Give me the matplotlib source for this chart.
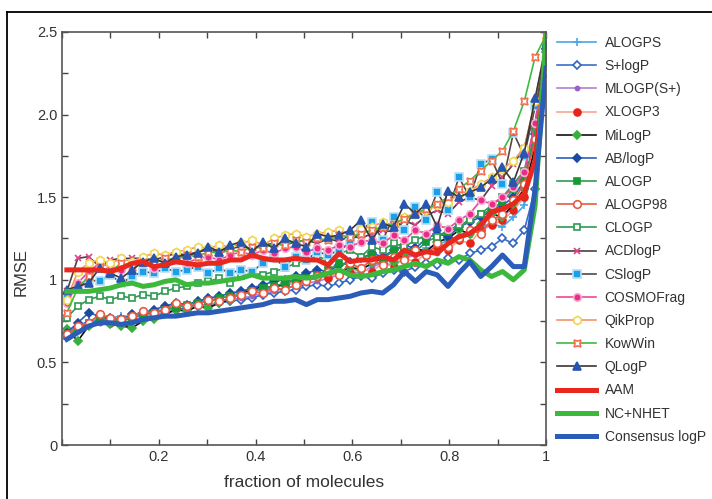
import numpy as np
import matplotlib
matplotlib.use("Agg")
import matplotlib.pyplot as plt
from matplotlib.lines import Line2D
from matplotlib.ticker import MultipleLocator, FixedLocator, FixedFormatter

plt.rcParams['font.family'] = ['Liberation Sans', 'DejaVu Sans']

# fraction of molecules (x grid)
frac = [0.01, 0.0325, 0.055, 0.0775, 0.1, 0.1225, 0.145, 0.1675, 0.19, 0.2125,
        0.235, 0.2575, 0.28, 0.3025, 0.325, 0.3475, 0.37, 0.3925, 0.415, 0.4375,
        0.46, 0.4825, 0.505, 0.5275, 0.55, 0.5725, 0.595, 0.6175, 0.64, 0.6625,
        0.685, 0.7075, 0.73, 0.7525, 0.775, 0.7975, 0.82, 0.8425, 0.865, 0.8875,
        0.91, 0.9325, 0.955, 0.9775, 1.0]

alogps = [0.68, 0.72, 0.75, 0.76, 0.77, 0.78, 0.78, 0.80, 0.81, 0.82, 0.84, 0.85, 0.86, 0.87, 0.89,
          0.90, 0.91, 0.93, 0.94, 0.95, 0.97, 0.98, 1.00, 1.01, 1.03, 1.04, 1.06, 1.07, 1.09, 1.11,
          1.12, 1.14, 1.17, 1.19, 1.21, 1.24, 1.26, 1.29, 1.31, 1.34, 1.32, 1.38, 1.45, 1.75, 2.30]
splogp = [0.67, 0.71, 0.74, 0.75, 0.76, 0.75, 0.77, 0.78, 0.79, 0.80, 0.82, 0.83, 0.84, 0.85, 0.86,
          0.87, 0.88, 0.89, 0.91, 0.92, 0.93, 0.94, 0.96, 0.97, 0.96, 0.98, 1.00, 1.02, 1.01, 1.04,
          1.06, 1.05, 1.08, 1.10, 1.09, 1.13, 1.12, 1.16, 1.18, 1.20, 1.25, 1.22, 1.30, 1.55, 2.25]
mlogp = [0.67, 0.71, 0.73, 0.74, 0.75, 0.76, 0.76, 0.78, 0.79, 0.80, 0.81, 0.82, 0.84, 0.85, 0.86,
         0.88, 0.89, 0.90, 0.92, 0.93, 0.95, 0.96, 0.98, 0.99, 1.01, 1.03, 1.05, 1.04, 1.08, 1.10,
         1.09, 1.13, 1.15, 1.18, 1.16, 1.21, 1.25, 1.27, 1.31, 1.35, 1.38, 1.44, 1.52, 1.80, 2.32]
xlogp3 = [0.66, 0.70, 0.73, 0.75, 0.74, 0.75, 0.77, 0.78, 0.80, 0.81, 0.83, 0.85, 0.86, 0.88, 0.89,
          0.91, 0.92, 0.93, 0.95, 0.96, 0.97, 0.99, 1.00, 1.02, 1.01, 1.05, 1.04, 1.07, 1.05, 1.10,
          1.08, 1.13, 1.11, 1.16, 1.20, 1.18, 1.24, 1.22, 1.30, 1.33, 1.36, 1.42, 1.50, 1.78, 2.30]
milogp = [0.70, 0.63, 0.72, 0.76, 0.73, 0.72, 0.71, 0.75, 0.76, 0.79, 0.82, 0.81, 0.84, 0.83, 0.86,
          0.88, 0.92, 0.94, 0.96, 0.95, 0.98, 1.00, 0.99, 1.02, 1.05, 1.04, 1.08, 1.06, 1.10, 1.13,
          1.11, 1.16, 1.19, 1.17, 1.23, 1.25, 1.30, 1.28, 1.34, 1.40, 1.38, 1.46, 1.55, 1.80, 2.38]
ablogp = [0.68, 0.74, 0.80, 0.78, 0.77, 0.76, 0.79, 0.80, 0.82, 0.84, 0.86, 0.85, 0.87, 0.89, 0.90,
          0.92, 0.93, 0.95, 0.97, 0.99, 1.00, 1.02, 1.04, 1.06, 1.05, 1.09, 1.11, 1.13, 1.16, 1.14,
          1.18, 1.21, 1.19, 1.25, 1.28, 1.26, 1.32, 1.35, 1.38, 1.42, 1.45, 1.50, 1.60, 1.88, 2.40]
alogp = [0.66, 0.70, 0.74, 0.75, 0.76, 0.75, 0.77, 0.79, 0.80, 0.82, 0.83, 0.85, 0.86, 0.87, 0.89,
         0.90, 0.91, 0.93, 0.95, 0.96, 0.98, 1.00, 1.01, 1.03, 1.06, 1.10, 1.09, 1.13, 1.15, 1.12,
         1.18, 1.20, 1.17, 1.23, 1.26, 1.29, 1.32, 1.36, 1.40, 1.42, 1.47, 1.55, 1.62, 1.90, 2.42]
alogp98 = [0.67, 0.72, 0.74, 0.79, 0.77, 0.76, 0.78, 0.81, 0.80, 0.82, 0.86, 0.84, 0.85, 0.88, 0.87,
           0.89, 0.91, 0.93, 0.92, 0.95, 0.94, 0.97, 0.99, 1.02, 1.05, 1.03, 1.10, 1.07, 1.12, 1.09,
           1.14, 1.12, 1.18, 1.15, 1.22, 1.20, 1.25, 1.30, 1.28, 1.36, 1.40, 1.48, 1.58, 1.85, 2.35]
clogp = [0.77, 0.84, 0.88, 0.90, 0.88, 0.90, 0.89, 0.91, 0.90, 0.93, 0.95, 0.96, 0.98, 0.99, 1.01,
         0.98, 1.02, 1.04, 1.03, 1.05, 1.07, 1.10, 1.12, 1.14, 1.12, 1.16, 1.18, 1.14, 1.20, 1.18,
         1.22, 1.20, 1.24, 1.27, 1.26, 1.30, 1.33, 1.36, 1.40, 1.45, 1.50, 1.58, 1.66, 1.95, 2.40]
acdlogp = [0.93, 1.13, 1.14, 1.08, 1.12, 1.13, 1.13, 1.13, 1.12, 1.14, 1.16, 1.15, 1.17, 1.18, 1.17,
           1.19, 1.20, 1.19, 1.21, 1.22, 1.21, 1.23, 1.24, 1.22, 1.25, 1.23, 1.27, 1.25, 1.28, 1.30,
           1.29, 1.36, 1.33, 1.39, 1.42, 1.40, 1.47, 1.50, 1.48, 1.57, 1.62, 1.70, 1.80, 2.05, 2.40]
cslogp = [0.89, 0.95, 1.00, 0.99, 1.03, 0.98, 1.02, 1.05, 1.04, 1.07, 1.05, 1.06, 1.08, 1.04, 1.07,
          1.04, 1.06, 1.05, 1.10, 1.13, 1.08, 1.14, 1.12, 1.17, 1.15, 1.18, 1.22, 1.30, 1.35, 1.24,
          1.38, 1.30, 1.44, 1.36, 1.53, 1.42, 1.62, 1.50, 1.70, 1.73, 1.58, 1.89, 1.75, 2.05, 2.30]
cosmofrag = [0.86, 0.98, 1.05, 1.10, 1.08, 1.06, 1.09, 1.10, 1.07, 1.11, 1.12, 1.10, 1.13, 1.14, 1.12,
             1.15, 1.17, 1.15, 1.18, 1.16, 1.19, 1.20, 1.17, 1.19, 1.18, 1.21, 1.20, 1.23, 1.24, 1.22,
             1.27, 1.24, 1.30, 1.28, 1.33, 1.31, 1.36, 1.40, 1.48, 1.46, 1.50, 1.56, 1.65, 1.95, 2.35]
qikprop = [0.88, 1.05, 1.10, 1.12, 1.10, 1.13, 1.11, 1.14, 1.16, 1.15, 1.17, 1.18, 1.20, 1.19, 1.21,
           1.20, 1.22, 1.24, 1.21, 1.25, 1.27, 1.28, 1.26, 1.28, 1.29, 1.30, 1.28, 1.31, 1.32, 1.35,
           1.33, 1.38, 1.40, 1.42, 1.45, 1.47, 1.52, 1.54, 1.58, 1.62, 1.67, 1.72, 1.80, 2.08, 2.45]
kowwin = [0.80, 0.95, 1.02, 1.08, 1.05, 1.10, 1.08, 1.11, 1.10, 1.13, 1.12, 1.15, 1.14, 1.17, 1.16,
          1.18, 1.17, 1.20, 1.19, 1.22, 1.21, 1.24, 1.23, 1.25, 1.24, 1.27, 1.26, 1.28, 1.30, 1.32,
          1.34, 1.37, 1.40, 1.43, 1.46, 1.50, 1.55, 1.60, 1.66, 1.72, 1.78, 1.90, 2.08, 2.35, 2.48]
qlogp = [0.94, 0.96, 0.98, 1.07, 1.04, 1.01, 1.06, 1.11, 1.13, 1.10, 1.14, 1.15, 1.16, 1.20, 1.17,
         1.21, 1.23, 1.17, 1.23, 1.19, 1.25, 1.22, 1.20, 1.28, 1.26, 1.27, 1.30, 1.36, 1.24, 1.34,
         1.32, 1.46, 1.40, 1.46, 1.32, 1.54, 1.50, 1.53, 1.56, 1.61, 1.68, 1.59, 1.77, 2.10, 2.42]
aam = [1.06, 1.06, 1.06, 1.06, 1.05, 1.07, 1.10, 1.11, 1.08, 1.09, 1.11, 1.10, 1.09, 1.10, 1.10,
       1.12, 1.12, 1.15, 1.13, 1.12, 1.12, 1.13, 1.12, 1.12, 1.09, 1.16, 1.11, 1.12, 1.12, 1.14,
       1.12, 1.18, 1.15, 1.17, 1.16, 1.22, 1.26, 1.28, 1.33, 1.41, 1.43, 1.46, 1.52, 1.72, 2.32]
nc_nhet = [0.93, 0.93, 0.93, 0.94, 0.95, 0.97, 0.98, 0.96, 0.97, 0.99, 1.00, 0.97, 0.98, 0.98, 0.99,
           1.00, 1.01, 1.03, 1.01, 1.01, 1.01, 1.02, 1.01, 1.02, 1.04, 1.06, 1.03, 1.02, 1.03, 1.05,
           1.06, 1.08, 1.10, 1.08, 1.12, 1.10, 1.14, 1.12, 1.06, 1.02, 1.05, 1.00, 1.06, 1.45, 2.48]
consensus = [0.64, 0.68, 0.72, 0.74, 0.74, 0.73, 0.74, 0.76, 0.77, 0.78, 0.78, 0.79, 0.80, 0.80, 0.81,
             0.82, 0.83, 0.84, 0.85, 0.87, 0.87, 0.88, 0.85, 0.88, 0.88, 0.89, 0.90, 0.92, 0.93, 0.92,
             0.97, 1.05, 0.99, 1.05, 1.03, 0.96, 1.04, 1.11, 1.02, 1.08, 1.15, 1.08, 1.08, 1.55, 2.28]

fig = plt.figure(figsize=(7.12, 4.99), dpi=100)
ax = fig.add_axes([0.0871, 0.1082, 0.6798, 0.8277])

# thin method curves: (label, values, line colour, marker, marker face, marker edge, size)
thin = [
    ("ALOGPS", alogps, "#4aa6ea", "+", "#4aa6ea", "#4aa6ea", 6),
    ("S+logP", splogp, "#3a70c8", "D", "white", "#2f64c0", 4.5),
    ("MLOGP(S+)", mlogp, "#b080d4", "o", "#9a62c4", "#9a62c4", 3),
    ("XLOGP3", xlogp3, "#f7a68e", "o", "#e6241a", "#e6241a", 5),
    ("MiLogP", milogp, "#111111", "D", "#38b040", "#38b040", 4.5),
    ("AB/logP", ablogp, "#2a5fbd", "D", "#1a4aa4", "#1a4aa4", 4.5),
    ("ALOGP", alogp, "#2f9a52", "s", "#169a34", "#169a34", 4.5),
    ("ALOGP98", alogp98, "#e65a42", "o", "white", "#e65a42", 5.5),
    ("CLOGP", clogp, "#2f9a52", "s", "white", "#2f9a52", 5),
    ("ACDlogP", acdlogp, "#4e4040", "x", "#e0408c", "#e0408c", 5),
    ("CSlogP", cslogp, "#544848", "s", "#1aa0e8", "#b8def6", 5.5),
    ("COSMOFrag", cosmofrag, "#ec4898", "o", "#e82c88", "#f7b0d0", 5.5),
    ("QikProp", qikprop, "#f5946a", "h", "white", "#f0d850", 6),
    ("KowWin", kowwin, "#3fbb3f", (4, 1, 45), "white", "#f07050", 7),
    ("QLogP", qlogp, "#3e3434", "^", "#2656b0", "#2656b0", 5.5),
]
for label, vals, lc, mk, mfc, mec, ms in thin:
    ax.plot(frac, vals, color=lc, lw=1.2, marker=mk, ms=ms, mfc=mfc, mec=mec,
            mew=1.2, label=label)

ax.plot(frac, aam, color="#e8281e", lw=3.6, label="AAM")
ax.plot(frac, nc_nhet, color="#3cb83c", lw=3.6, label="NC+NHET")
ax.plot(frac, consensus, color="#2a5cb8", lw=3.6, label="Consensus logP")

ax.set_xlim(0, 1)
ax.set_ylim(0, 2.5)

ax.xaxis.set_major_locator(FixedLocator([0.2, 0.4, 0.6, 0.8, 1.0]))
ax.xaxis.set_major_formatter(FixedFormatter(["0.2", "0.4", "0.6", "0.8", "1"]))
ax.xaxis.set_minor_locator(MultipleLocator(0.1))
ax.yaxis.set_major_locator(FixedLocator([0, 0.5, 1.0, 1.5, 2.0, 2.5]))
ax.yaxis.set_major_formatter(FixedFormatter(["0", "0.5", "1", "1.5", "2.0", "2.5"]))
ax.yaxis.set_minor_locator(MultipleLocator(0.25))

ax.tick_params(which="both", direction="in", top=True, right=True, length=4.5,
               width=1.0, color="#444444", labelsize=10.5, labelcolor="#333333")
for sp in ax.spines.values():
    sp.set_color("#555555")
    sp.set_linewidth(1.2)

ax.set_xlabel("fraction of molecules", fontsize=12.5, color="#333333", labelpad=8)
ax.set_ylabel("RMSE", fontsize=12, color="#333333")
ax.yaxis.set_label_coords(-0.068, 0.42)

fig.legend(loc="upper left", bbox_to_anchor=(0.775, 0.939), frameon=False,
           fontsize=10, handlelength=2.8, handletextpad=0.6, labelspacing=0.66,
           borderaxespad=0, labelcolor="#333333")

# outer frame of the original figure (only top and left edges visible)
fig.add_artist(Line2D([7 / 712, 7 / 712], [0, 1 - 12 / 499], transform=fig.transFigure,
                      color="black", lw=1.3))
fig.add_artist(Line2D([7 / 712, 1], [1 - 12 / 499, 1 - 12 / 499], transform=fig.transFigure,
                      color="black", lw=1.3))

fig.savefig("out.png", dpi=100)
